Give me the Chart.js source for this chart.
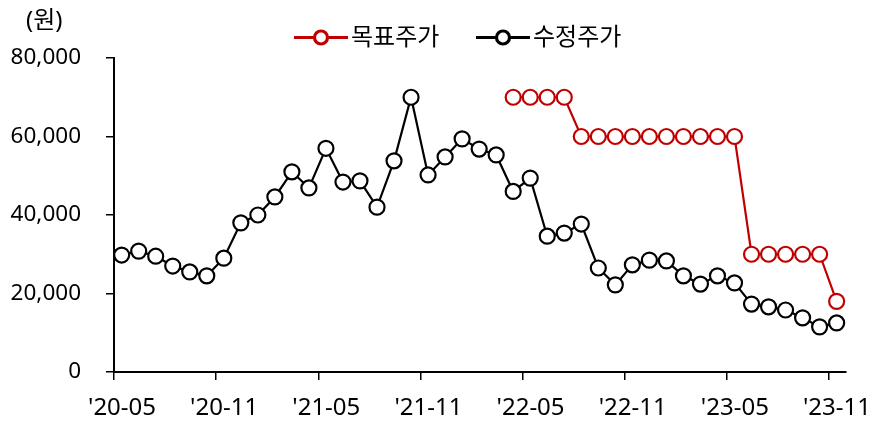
<!DOCTYPE html>
<html>
<head>
<meta charset="utf-8">
<script src="https://cdn.jsdelivr.net/npm/chart.js@4"></script>
<style>
  html, body { margin: 0; padding: 0; background: #fff; }
  #wrap { width: 871px; height: 421px; }
</style>
</head>
<body>
<div id="wrap"><canvas id="chart"></canvas></div>
<script>
const FONT = '"Noto Sans", "Noto Sans CJK KR", sans-serif';

// months on the x axis
const months = [
  "'20-05", "'20-06", "'20-07", "'20-08", "'20-09", "'20-10", "'20-11", "'20-12",
  "'21-01", "'21-02", "'21-03", "'21-04", "'21-05", "'21-06", "'21-07", "'21-08",
  "'21-09", "'21-10", "'21-11", "'21-12", "'22-01", "'22-02", "'22-03", "'22-04",
  "'22-05", "'22-06", "'22-07", "'22-08", "'22-09", "'22-10", "'22-11", "'22-12",
  "'23-01", "'23-02", "'23-03", "'23-04", "'23-05", "'23-06", "'23-07", "'23-08",
  "'23-09", "'23-10", "'23-11"
];
const tickLabels = ["'20-05", "'20-11", "'21-05", "'21-11", "'22-05", "'22-11", "'23-05", "'23-11"];
const yTicks = [0, 20000, 40000, 60000, 80000];

const seriesNames = ['목표주가', '수정주가'];
const targetPrice = [
  null, null, null, null, null, null, null, null, null, null, null, null,
  null, null, null, null, null, null, null, null, null, null, null,
  70000, 70000, 70000, 70000,
  60000, 60000, 60000, 60000, 60000, 60000, 60000, 60000, 60000, 60000,
  30000, 30000, 30000, 30000, 30000,
  18000
];
const adjPrice = [
  29800, 30800, 29500, 27000, 25500, 24500, 29000, 38000, 40000, 44600,
  51000, 46900, 57000, 48400, 48700, 42000, 53800, 70000, 50200, 54800,
  59400, 56800, 55300, 46000, 49400, 34600, 35400, 37700, 26500, 22200,
  27300, 28500, 28300, 24500, 22400, 24500, 22700, 17300, 16600, 15800,
  13800, 11500, 12500
];

const RED = '#C00000';
const BLACK = '#000000';

// points sit a bit after the month tick, like the original date axis
function toPoints(values) {
  return values.map((v, i) => ({ x: i + 0.45, y: v }));
}

const legendPlugin = {
  id: 'lineLegend',
  afterDraw(chart) {
    const ctx = chart.ctx;
    const items = [
      { text: seriesNames[0], color: RED, x: 294 },
      { text: seriesNames[1], color: BLACK, x: 476 }
    ];
    const y = 37.5;
    ctx.save();
    items.forEach(it => {
      ctx.strokeStyle = it.color;
      ctx.lineWidth = 3;
      ctx.beginPath();
      ctx.moveTo(it.x, y);
      ctx.lineTo(it.x + 54, y);
      ctx.stroke();
      ctx.fillStyle = '#fff';
      ctx.lineWidth = 3.2;
      ctx.beginPath();
      ctx.arc(it.x + 27, y, 6.5, 0, Math.PI * 2);
      ctx.fill();
      ctx.stroke();
      ctx.fillStyle = '#000';
      ctx.font = '24px ' + FONT;
      ctx.textBaseline = 'middle';
      ctx.textAlign = 'left';
      ctx.fillText(it.text, it.x + 57, y + 1);
    });
    ctx.font = '24px ' + FONT;
    ctx.textAlign = 'left';
    ctx.textBaseline = 'middle';
    ctx.fillText('(원)', 26, 21);
    ctx.restore();
  }
};

new Chart(document.getElementById('chart'), {
  type: 'line',
  data: {
    datasets: [
      {
        label: seriesNames[0],
        data: toPoints(targetPrice),
        borderColor: RED,
        backgroundColor: '#fff',
        borderWidth: 2.2,
        pointRadius: 7.5,
        pointBorderWidth: 2.2,
        pointBackgroundColor: '#fff',
        pointBorderColor: RED,
        tension: 0
      },
      {
        label: seriesNames[1],
        data: toPoints(adjPrice),
        borderColor: BLACK,
        backgroundColor: '#fff',
        borderWidth: 2.2,
        pointRadius: 7.5,
        pointBorderWidth: 2.2,
        pointBackgroundColor: '#fff',
        pointBorderColor: BLACK,
        tension: 0
      }
    ]
  },
  options: {
    responsive: true,
    maintainAspectRatio: false,
    animation: false,
    layout: { padding: { top: 58, left: 8, right: 25, bottom: 0 } },
    plugins: {
      legend: { display: false },
      tooltip: { enabled: false }
    },
    scales: {
      x: {
        type: 'linear',
        min: 0,
        max: 43,
        afterBuildTicks(scale) {
          scale.ticks = tickLabels.map((t, i) => ({ value: i * 6 }));
        },
        afterFit(scale) {
          scale.height = 49;
          scale.paddingLeft = 0;
          scale.paddingRight = 0;
        },
        ticks: {
          callback: (v, i) => tickLabels[i],
          color: '#000',
          font: { family: FONT, size: 24 },
          padding: 14,
          labelOffset: 8,
          maxRotation: 0,
          autoSkip: false
        },
        grid: { drawOnChartArea: false, drawTicks: true, tickLength: 8, color: '#000', lineWidth: 1.5 },
        border: { color: '#000', width: 2 }
      },
      y: {
        min: 0,
        max: 80000,
        afterBuildTicks(scale) {
          scale.ticks = yTicks.map(v => ({ value: v }));
        },
        afterFit(scale) { scale.width = 106; },
        ticks: {
          callback: v => v.toLocaleString('en-US'),
          color: '#000',
          font: { family: FONT, size: 22.5 },
          padding: 25
        },
        grid: { drawOnChartArea: false, drawTicks: true, tickLength: 8, color: '#000', lineWidth: 1.5 },
        border: { color: '#000', width: 2 }
      }
    }
  },
  plugins: [legendPlugin]
});
</script>
</body>
</html>
